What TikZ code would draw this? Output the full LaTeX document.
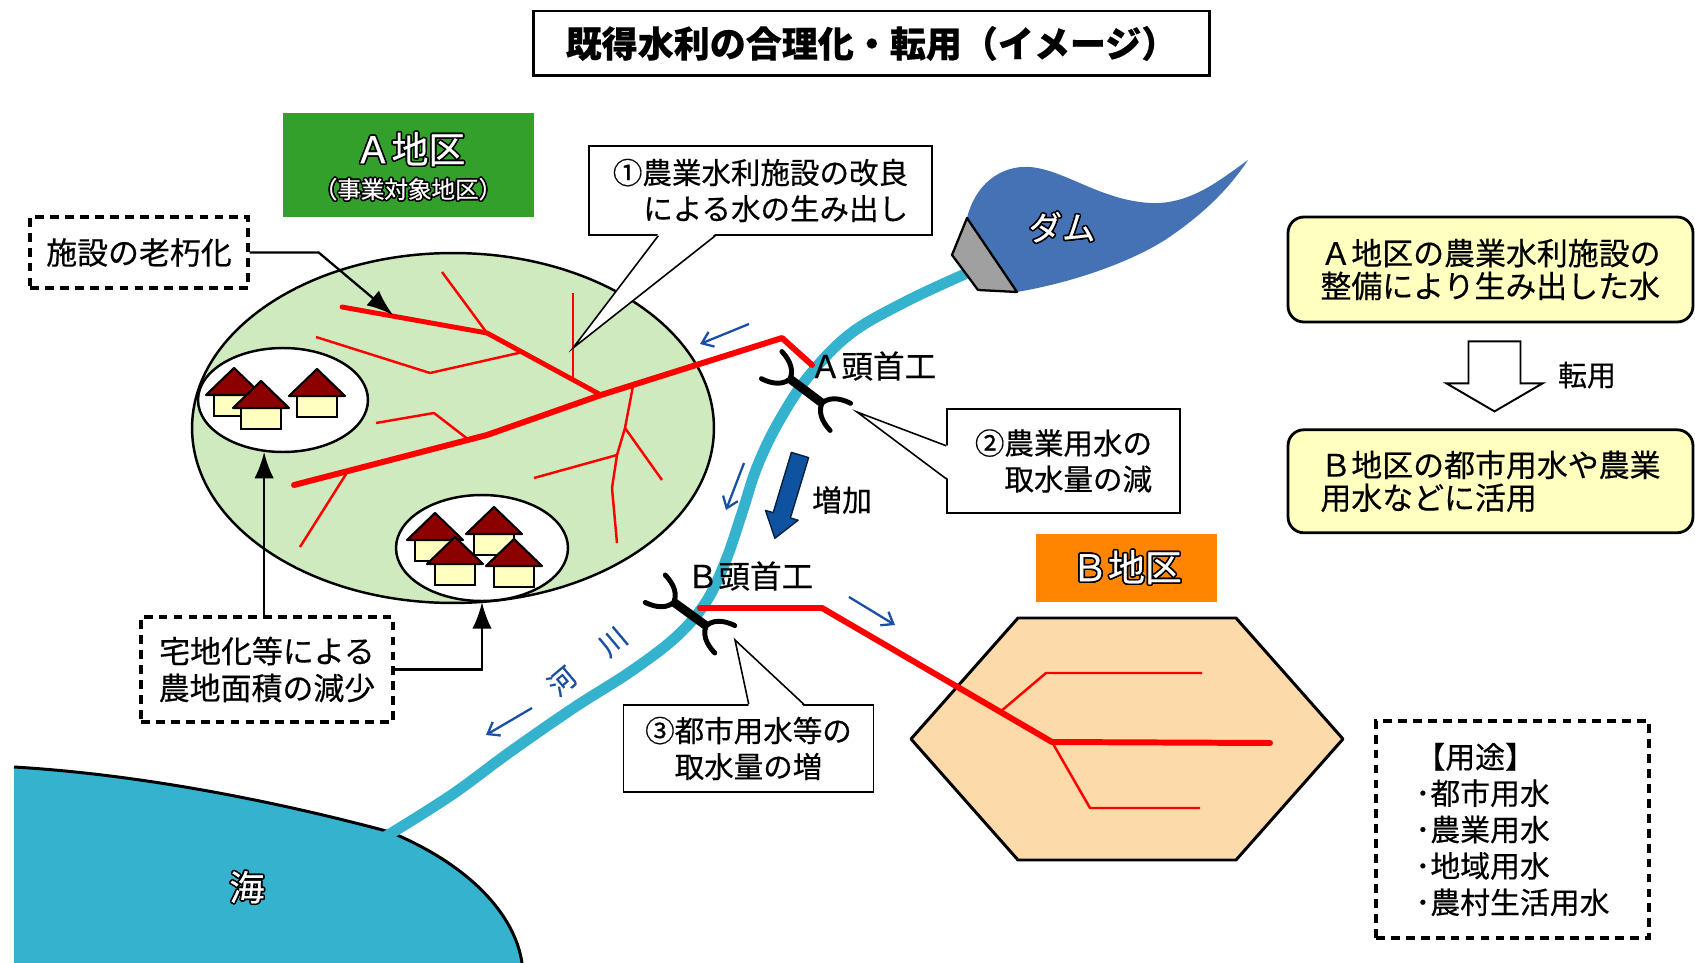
\documentclass[tikz,border=0pt]{standalone}
\usepackage{fontspec}
\setmainfont{Noto Sans CJK JP}[FakeBold=0.4]
\usepackage{contour}
\contourlength{0.9pt}
\usetikzlibrary{arrows.meta,calc,positioning,shapes.geometric}

\definecolor{fieldgreen}{RGB}{206,234,190}
\definecolor{tagA}{RGB}{51,160,44}
\definecolor{tagB}{RGB}{255,133,0}
\definecolor{fieldpeach}{RGB}{252,218,170}
\definecolor{water}{RGB}{53,178,206}
\definecolor{damblue}{RGB}{68,114,180}
\definecolor{wallgray}{RGB}{160,160,160}
\definecolor{flowblue}{RGB}{25,80,165}
\definecolor{bigblue}{RGB}{14,82,160}
\definecolor{roofred}{RGB}{140,0,0}
\definecolor{housebody}{RGB}{255,255,192}
\definecolor{noteyellow}{RGB}{255,255,192}

\begin{document}
\begin{tikzpicture}[x=0.02cm, y=-0.02cm]
    \tikzstyle{every node}=[font=\fontsize{17pt}{21pt}\selectfont, align=center, inner sep=0pt]
    \tikzset{
        b/.style={draw, line width=0.9pt, fill=white, font=\fontsize{16.8pt}{20.5pt}\selectfont},
        db/.style={draw, line width=1.9pt, dash pattern=on 5pt off 3.5pt},
        yb/.style={draw, line width=1.6pt, rounded corners=9pt, fill=noteyellow, align=left,
            minimum width=8.1cm, font=\fontsize{17.6pt}{18.7pt}\selectfont},
        tag/.style={text=white, font=\fontsize{21pt}{25pt}\selectfont},
        canal/.style={red, line width=1.4pt, line join=round},
        trunk/.style={canal, line width=3.4pt, line cap=round},
        flow/.style={flowblue, line width=1.3pt, -{Straight Barb[length=6pt,width=9pt]}},
        lead/.style={line width=1.3pt, -{Latex[length=15pt,width=11pt]}},
        house/.pic={
            \filldraw[fill=housebody, line width=1.2pt] (-20,27) rectangle (20,48);
            \filldraw[fill=roofred, line width=1.2pt, line join=round] (-28,27) -- (0,0) -- (28,27) -- cycle;
        },
        weir/.pic={
            \draw[line width=5pt] (-20,0) -- (20,0);
            \draw[line width=2.8pt, line cap=round] (-43,-17) .. controls (-38,-16) and (-23,-13) .. (-20,0) .. controls (-23,13) and (-38,16) .. (-43,17);
            \draw[line width=2.8pt, line cap=round] (43,-17) .. controls (38,-16) and (23,-13) .. (20,0) .. controls (23,13) and (38,16) .. (43,17);
        }
    }
    \useasboundingbox (0,0) rectangle (1695,963);

    %title
    \node (title) [draw, line width=1.7pt, minimum width=13.54cm, minimum height=1.3cm,
        font=\fontsize{20.5pt}{24pt}\selectfont\bfseries] at (871.5,43.5) {既得水利の合理化・転用（イメージ）};

    %sea
    \fill[water] (14,767) .. controls (150,775) and (290,805) .. (390,832) .. controls (470,865) and (515,915) .. (522,963) -- (14,963) -- cycle;
    \draw[line width=1.7pt] (14,767) .. controls (150,775) and (290,805) .. (390,832) .. controls (470,865) and (515,915) .. (522,963);
    \node (umi) [tag, font=\fontsize{20pt}{24pt}\selectfont] at (247,888) {\contour{black}{海}};

    %river
    \draw[water, line width=6.2pt, line cap=round] plot[smooth, tension=0.6] coordinates {(965,274) (905,302) (850,334) (808,377) (778,423) (757,467) (742,513) (726,560) (706,602) (676,637) (630,672) (575,707) (510,752) (450,796) (380,840)};

    %dam
    \fill[damblue] (967,218) .. controls (975,185) and (1000,165) .. (1030,167) .. controls (1065,170) and (1100,200) .. (1150,203)
        .. controls (1190,205) and (1220,180) .. (1248,160) .. controls (1225,195) and (1195,220) .. (1165,240)
        .. controls (1130,262) and (1075,282) .. (1017,292) -- cycle;
    \filldraw[fill=wallgray, line width=1.3pt, line join=round] (967,218) -- (952,255) -- (978,290) -- (1017,292) -- cycle;
    \node (damu) [tag, font=\fontsize{19pt}{22pt}\selectfont] at (1062,228) {\contour{black}{ダム}};

    %district A
    \node (fieldA) [ellipse, draw, line width=1.4pt, fill=fieldgreen, minimum width=10.44cm, minimum height=7cm] at (453,428) {};
    \draw[trunk, line width=2.8pt] (342,307) -- (487,333) -- (601,395);
    \draw[trunk] (812,365) -- (782,338) -- (601,395) -- (487,435) -- (294,485);
    \draw[canal] (487,333) -- (442,272);
    \draw[canal] (316,337) -- (430,373) -- (523,352);
    \draw[canal] (573,293) -- (573,379);
    \draw[canal] (376,423) -- (434,413) -- (469,440);
    \draw[canal] (348,471) -- (300,547);
    \draw[canal] (633,386) -- (625,428) -- (617,455) -- (612,488) -- (617,543);
    \draw[canal] (625,428) -- (662,480);
    \draw[canal] (617,455) -- (534,478);

    %housing
    \node (houses1) [ellipse, draw, line width=1.4pt, fill=white, minimum width=3.4cm, minimum height=2.08cm] at (283,400) {};
    \node (houses2) [ellipse, draw, line width=1.4pt, fill=white, minimum width=3.44cm, minimum height=2.12cm] at (482,548) {};
    \foreach \x/\y in {234/368, 261/381, 317/369, 435/513, 494/507, 455/537, 514/539}
        \pic at (\x,\y) {house};

    \node (chikuA) [fill=tagA, minimum width=5.02cm, minimum height=2.08cm] at (408.5,165) {};
    \node (chikuAname) [tag] at (410,150) {\contour{black}{Ａ地区}};
    \node (chikuAsub) [tag, font=\fontsize{13.4pt}{16pt}\selectfont] at (408,190) {\contour{black}{（事業対象地区）}};

    %district B
    \filldraw[fill=fieldpeach, line width=1.7pt, line join=round] (911,739) -- (1018,618) -- (1236,618) -- (1343,739) -- (1236,860) -- (1018,860) -- cycle;
    \draw[trunk] (700,608) -- (822,608) -- (1052,742) -- (1270,743);
    \draw[canal] (1000,712) -- (1046,673) -- (1202,673);
    \draw[canal] (1052,742) -- (1090,808) -- (1200,808);
    \node (chikuB) [fill=tagB, tag, minimum width=3.62cm, minimum height=1.36cm] at (1126.5,568) {\contour{black}{Ｂ地区}};

    %head works
    \pic (weirA) [rotate=-37] at (806,391) {weir};
    \node (weirAname) [font=\fontsize{18pt}{21pt}\selectfont] at (873,366) {Ａ頭首工};
    \pic (weirB) [rotate=-36] at (690,614) {weir};
    \node (weirBname) [font=\fontsize{18pt}{21pt}\selectfont] at (750,576) {Ｂ頭首工};

    %callouts
    \node (kairyo) [b, minimum width=6.86cm, minimum height=1.78cm, align=right] at (760.5,190.5) {①農業水利施設の改良\\による水の生み出し};
    \coordinate (kairyotip) at (573,348);
    \fill[white] ($(kairyo.south west)+(70,-2)$) -- (kairyotip) -- ($(kairyo.south west)+(127,-2)$) -- cycle;
    \draw[line width=0.9pt] ($(kairyo.south west)+(70,0)$) -- (kairyotip) -- ($(kairyo.south west)+(127,0)$);

    \node (gensui) [b, minimum width=4.66cm, minimum height=2.08cm, align=right] at (1063.5,461) {②農業用水の\\取水量の減};
    \coordinate (gensuitip) at (857,412);
    \fill[white] ($(gensui.south west)+(2,-68)$) -- (gensuitip) -- ($(gensui.south west)+(2,-35)$) -- cycle;
    \draw[line width=0.9pt] ($(gensui.south west)+(0,-68)$) -- (gensuitip) -- ($(gensui.south west)+(0,-35)$);

    \node (zousui) [b, minimum width=5cm, minimum height=1.74cm] at (748.5,748.5) {③都市用水等の\\取水量の増};
    \coordinate (zousuitip) at (735,640);
    \fill[white] ($(zousui.north west)+(126,2)$) -- (zousuitip) -- ($(zousui.north west)+(181,2)$) -- cycle;
    \draw[line width=0.9pt] ($(zousui.north west)+(126,0)$) -- (zousuitip) -- ($(zousui.north west)+(181,0)$);

    %notes with leaders
    \node (roukyu) [db, minimum width=4.36cm, minimum height=1.42cm, font=\fontsize{17.6pt}{21pt}\selectfont] at (139,252.5) {施設の老朽化};
    \coordinate (worn) at (393,315);
    \draw[lead] (roukyu.east) -- ++(69,0) -- (worn);

    \node (takuchi) [db, minimum width=5.04cm, minimum height=2.1cm, font=\fontsize{17.6pt}{21pt}\selectfont] at (267,669.5) {宅地化等による\\農地面積の減少};
    \draw[lead] (takuchi.north -| houses1.250) -- (houses1.250);
    \draw[lead] (takuchi.east) -| (houses2.south);

    %flow directions
    \draw[flow] (749,324) -- (700,344);
    \draw[flow] (744,463) -- (726,510);
    \draw[flow] (849,597) -- (895,625);
    \draw[flow] (532,708) -- (486,735);
    \node (kawa) [rotate=40, text=flowblue, font=\fontsize{15.5pt}{18pt}\selectfont] at (562,681) {河};
    \node (sen) [rotate=40, text=flowblue, font=\fontsize{15.5pt}{18pt}\selectfont] at (613,642) {川};

    \begin{scope}[shift={(800,455)}, rotate=-106.8]
        \filldraw[fill=bigblue, draw=black!60!bigblue, line width=0.8pt, line join=round]
            (0,-9) -- (63,-9) -- (63,-17) -- (87,0) -- (63,17) -- (63,9) -- (0,9) -- cycle;
    \end{scope}
    \node (zouka) at (842,500) {増加};

    %transfer
    \node (mizu1) [yb, minimum height=2.1cm] at (1490.5,269.5) {Ａ地区の農業水利施設の\\整備により生み出した水};
    \node (mizu2) [yb, minimum height=2.06cm, below=2.1cm of mizu1] {Ｂ地区の都市用水や農業\\用水などに活用};
    \begin{scope}[shift={(mizu1.south)}]
        \draw[line width=1.1pt, fill=white, line join=miter] (-22,18) -- (30,18) -- (30,60) -- (52,60) -- (4,88) -- (-44,60) -- (-22,60) -- cycle;
    \end{scope}
    \node (tenyo) [font=\fontsize{16.5pt}{20pt}\selectfont] at (1587,375) {転用};

    %uses
    \node (youto) [db, minimum width=5.46cm, minimum height=4.34cm, align=left, font=\fontsize{17pt}{20.7pt}\selectfont] at (1512.5,829.5)
        {【用途】\\･都市用水\\･農業用水\\･地域用水\\･農村生活用水};
\end{tikzpicture}
\end{document}
